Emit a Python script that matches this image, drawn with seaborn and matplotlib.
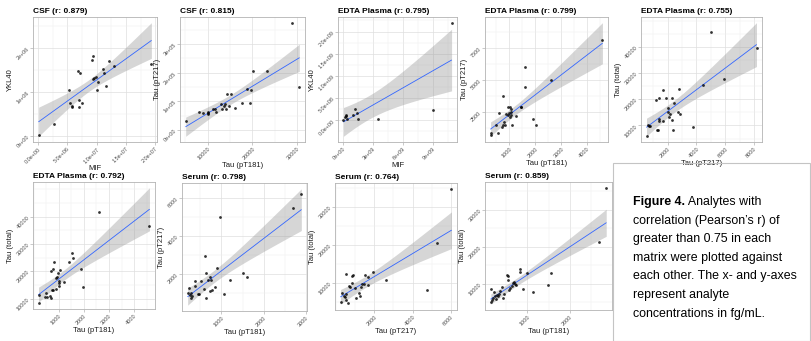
import numpy as np
import pandas as pd
import matplotlib
matplotlib.use("Agg")
import matplotlib.pyplot as plt
import seaborn as sns
from matplotlib.ticker import FixedLocator, MultipleLocator
from matplotlib.patches import Rectangle

# ---------------- data ----------------
titles = ["CSF (r: 0.879)", "CSF (r: 0.815)", "EDTA Plasma (r: 0.795)",
          "EDTA Plasma (r: 0.799)", "EDTA Plasma (r: 0.755)",
          "EDTA Plasma (r: 0.792)", "Serum (r: 0.798)", "Serum (r: 0.764)",
          "Serum (r: 0.859)"]
xlabels = ["MIF", "Tau (pT181)", "MIF", "Tau (pT181)", "Tau (pT217)",
           "Tau (pT181)", "Tau (pT181)", "Tau (pT217)", "Tau (pT181)"]
ylabels = ["YKL40", "Tau (pT217)", "YKL40", "Tau (pT217)", "Tau (total)",
           "Tau (total)", "Tau (pT217)", "Tau (total)", "Tau (total)"]

p1_x = [0.1e6, 2.8e6, 5.2e6, 5.4e6, 5.7e6, 5.8e6, 6.8e6, 7.1e6, 7.0e6, 7.5e6, 6.9e6, 9.2e6,
        9.4e6, 9.3e6, 9.5e6, 9.8e6, 10.2e6, 10.1e6, 11.2e6, 11.1e6, 11.5e6, 12.1e6, 13.0e6, 19.3e6]
p1_y = [0.02e6, 0.28e6, 1.05e6, 0.76e6, 0.66e6, 0.68e6, 1.48e6, 1.44e6, 0.81e6, 0.76e6, 0.66e6, 1.72e6,
        1.82e6, 1.29e6, 1.32e6, 1.35e6, 1.23e6, 1.04e6, 1.42e6, 1.51e6, 1.14e6, 1.70e6, 1.58e6, 1.64e6]

p2_x = [5110, 7970, 8870, 10000, 10000, 10150, 11280, 11730, 11880, 13080, 13230, 13610, 13830,
        14140, 14290, 14740, 15260, 16170, 17590, 18800, 19400, 19700, 20230, 23160, 28800, 30450]
p2_y = [0.32e5, 0.63e5, 0.60e5, 0.59e5, 0.55e5, 0.63e5, 0.74e5, 0.74e5, 0.63e5, 0.89e5, 0.72e5,
        0.85e5, 0.91e5, 0.72e5, 1.25e5, 0.82e5, 1.25e5, 0.78e5, 0.94e5, 1.44e5, 0.94e5, 1.40e5,
        2.06e5, 2.06e5, 3.75e5, 1.51e5]

p3_x = [0.07e9, 0.26e9, 0.29e9, 0.33e9, 0.46e9, 1.04e9, 1.24e9, 1.47e9, 1.57e9, 3.55e9, 9.0e9, 10.9e9]
p3_y = [0.0, 0.07e9, 0.13e9, 0.10e9, 0.03e9, 0.11e9, 0.25e9, 0.16e9, 0.04e9, 0.03e9, 0.23e9, 2.2e9]

p4_x = [290, 290, 500, 560, 625, 725, 750, 750, 810, 850, 875, 940, 975, 1000, 1025, 1040, 1060,
        1060, 1090, 1110, 1260, 1440, 1460, 1600, 1600, 1900, 2025, 2600, 4575]
p4_y = [675, 875, 1500, 825, 2425, 1300, 1500, 3800, 1750, 1500, 2375, 2250, 2925, 2425, 2125, 2925,
        2250, 2750, 2500, 1500, 2175, 2875, 2925, 6000, 4500, 1950, 1500, 5050, 8175]

p5_x = [520, 640, 680, 730, 1250, 1300, 1360, 1360, 1180, 1360, 1640, 1700, 1860, 2050, 2050, 2090,
        2160, 2320, 2340, 2320, 2430, 2730, 2770, 2840, 3750, 4430, 5000, 5950, 8180]
p5_y = [5860, 10230, 9890, 9660, 8160, 8390, 11610, 12530, 19660, 20460, 11610, 23680, 20460, 16780,
        15060, 13100, 14480, 12180, 8390, 20460, 18740, 15060, 23910, 14250, 9310, 25400, 45860,
        27700, 39540]

p6_x = [195, 195, 455, 505, 545, 650, 675, 740, 780, 675, 780, 830, 900, 880, 935, 960, 990, 1025,
        1010, 1040, 1195, 1415, 1545, 1560, 1870, 1975, 2585, 4610]
p6_y = [8330, 11440, 10670, 12000, 10560, 11110, 10110, 13110, 13110, 20000, 20670, 23330, 13670,
        17560, 18000, 19220, 14780, 15780, 16440, 20560, 16220, 23560, 26670, 24780, 20670, 14220,
        41780, 36670]

p7_x = [203, 242, 258, 281, 281, 313, 367, 383, 438, 477, 523, 594, 609, 625, 633, 672, 727, 727,
        766, 781, 859, 906, 961, 1055, 1195, 1508, 1609, 2703, 2890]
p7_y = [1029, 1286, 909, 738, 1029, 858, 1630, 1407, 995, 978, 1664, 1252, 2967, 2058, 755, 1681,
        1115, 1887, 1715, 1200, 1321, 2350, 5009, 978, 1681, 2093, 1887, 5489, 6209]

p8_x = [254, 339, 424, 475, 559, 559, 559, 644, 678, 763, 847, 864, 898, 983, 1034, 1237, 1271,
        1322, 1373, 1492, 1525, 1661, 1695, 1966, 2627, 4746, 5254, 6017]
p8_y = [5085, 7288, 6440, 6186, 7034, 12290, 5508, 4661, 9153, 8898, 10000, 11864, 12119, 8729,
        6017, 7288, 6610, 8898, 9746, 9831, 12119, 11525, 9407, 12966, 10678, 8136, 20424, 34830]

p9_x = [144, 176, 160, 200, 224, 240, 256, 280, 304, 336, 368, 400, 424, 464, 528, 544, 544, 576,
        600, 640, 664, 696, 704, 736, 824, 840, 904, 1000, 1136, 1480, 1560, 2680, 2856]
p9_y = [5088, 5614, 8684, 6228, 7719, 6842, 5965, 7105, 6667, 7368, 7982, 9035, 6053, 7368, 12368,
        12105, 11053, 8246, 8860, 9474, 10351, 10614, 10000, 9737, 13246, 13860, 8684, 12807, 7807,
        9737, 12807, 21140, 35877]

xs = [p1_x, p2_x, p3_x, p4_x, p5_x, p6_x, p7_x, p8_x, p9_x]
ys = [p1_y, p2_y, p3_y, p4_y, p5_y, p6_y, p7_y, p8_y, p9_y]

xtick_vals = [[0, 5e6, 1e7, 1.5e7, 2e7], [10000, 20000, 30000], [0, 3e9, 6e9, 9e9],
              [1000, 2000, 3000, 4000], [2000, 4000, 6000, 8000], [1000, 2000, 3000, 4000],
              [1000, 2000, 3000], [2000, 4000, 6000], [1000, 2000, 3000]]
xtick_labs = [["0.0e+00", "5.0e+06", "1.0e+07", "1.5e+07", "2.0e+07"],
              ["10000", "20000", "30000"], ["0e+00", "3e+09", "6e+09", "9e+09"],
              ["1000", "2000", "3000", "4000"], ["2000", "4000", "6000", "8000"],
              ["1000", "2000", "3000", "4000"], ["1000", "2000", "3000"],
              ["2000", "4000", "6000"], ["1000", "2000", "3000"]]
ytick_vals = [[0, 1e6, 2e6], [0, 1e5, 2e5, 3e5], [0, 5e8, 1e9, 1.5e9, 2e9], [2500, 5000, 7500],
              [10000, 20000, 30000, 40000], [10000, 20000, 30000, 40000], [0, 2000, 4000, 6000],
              [10000, 20000, 30000], [10000, 20000, 30000]]
ytick_labs = [["0e+00", "1e+06", "2e+06"], ["0e+00", "1e+05", "2e+05", "3e+05"],
              ["0.0e+00", "5.0e+08", "1.0e+09", "1.5e+09", "2.0e+09"], ["2500", "5000", "7500"],
              ["10000", "20000", "30000", "40000"], ["10000", "20000", "30000", "40000"],
              ["0", "2000", "4000", "6000"], ["10000", "20000", "30000"],
              ["10000", "20000", "30000"]]

caption_bold = "Figure 4."
caption_lines = [" Analytes with", "correlation (Pearson\u2019s r) of", "greater than 0.75 in each",
                 "matrix were plotted against", "each other. The x- and y-axes",
                 "represent analyte", "concentrations in fg/mL."]

# ---------------- layout (pixel boxes: left, top, right, bottom) ----------------
W, H = 811, 341
boxes = [(33, 17, 157, 142), (180, 17, 305, 142), (338, 17, 457, 142), (485, 17, 608, 142),
         (641, 17, 762, 142), (33, 182, 155, 309), (182, 183, 307, 311), (335, 183, 457, 310),
         (485, 182, 612, 310)]

sns.set_theme(style="white")
plt.rcParams["font.family"] = ["Liberation Sans", "DejaVu Sans"]

fig = plt.figure(figsize=(W / 100, H / 100), dpi=100)
fig.patch.set_facecolor("white")


def t975(df):
    z = 1.959964
    return z + (z ** 3 + z) / (4 * df) + (5 * z ** 5 + 16 * z ** 3 + 3 * z) / (96 * df ** 2)


for i in range(9):
    l, t, r, b = boxes[i]
    ax = fig.add_axes([l / W, (H - b) / H, (r - l) / W, (b - t) / H])
    df = pd.DataFrame({"x": np.array(xs[i], float), "y": np.array(ys[i], float)})

    # linear fit with 95% confidence band (as in geom_smooth(method="lm"))
    x = df["x"].values
    y = df["y"].values
    n = len(x)
    b1, b0 = np.polyfit(x, y, 1)
    resid = y - (b0 + b1 * x)
    s = np.sqrt(np.sum(resid ** 2) / (n - 2))
    xg = np.linspace(x.min(), x.max(), 120)
    se = s * np.sqrt(1 / n + (xg - x.mean()) ** 2 / np.sum((x - x.mean()) ** 2))
    yg = b0 + b1 * xg
    tq = t975(n - 2)
    ax.fill_between(xg, yg - tq * se, yg + tq * se, color="#999999", alpha=0.4,
                    linewidth=0, zorder=2)

    sns.regplot(data=df, x="x", y="y", ax=ax, ci=None, truncate=True,
                scatter_kws=dict(s=4, color="black", linewidths=0, zorder=4),
                line_kws=dict(color="#3366FF", lw=0.6, zorder=3))

    ax.margins(0.05)
    ax.set_facecolor("white")
    for sp in ax.spines.values():
        sp.set_color("#b3b3b3")
        sp.set_linewidth(0.6)

    ax.xaxis.set_major_locator(FixedLocator(xtick_vals[i]))
    ax.set_xticklabels(xtick_labs[i], rotation=45, ha="right", va="top",
                       rotation_mode="anchor")
    ax.yaxis.set_major_locator(FixedLocator(ytick_vals[i]))
    ax.set_yticklabels(ytick_labs[i], rotation=45, ha="right", va="center",
                       rotation_mode="anchor")
    xstep = xtick_vals[i][1] - xtick_vals[i][0]
    ystep = ytick_vals[i][1] - ytick_vals[i][0]
    ax.xaxis.set_minor_locator(MultipleLocator(xstep / 2))
    ax.yaxis.set_minor_locator(MultipleLocator(ystep / 2))
    ax.grid(True, which="major", color="#dedede", linewidth=0.5, zorder=0)
    ax.grid(True, which="minor", color="#eeeeee", linewidth=0.35, zorder=0)
    ax.set_axisbelow(True)
    ax.tick_params(axis="both", which="major", labelsize=4.0, labelcolor="#4d4d4d",
                   color="#b3b3b3", length=2, width=0.5, pad=1.2, bottom=True, left=True)
    ax.tick_params(axis="both", which="minor", length=0)

    ax.set_xlabel(xlabels[i], fontsize=5.5, color="#1a1a1a", labelpad=0.5)
    ax.set_ylabel(ylabels[i], fontsize=5.5, color="#1a1a1a", labelpad=1.5)
    ax.set_title(titles[i], loc="left", fontsize=6, fontweight="bold", color="black", pad=3)

# ---------------- caption box ----------------
fig.patches.append(Rectangle((613 / W, 0), (W - 613) / W - 0.001, (H - 163) / H,
                             transform=fig.transFigure, fill=False, edgecolor="#c4c4c4",
                             linewidth=0.8))
x0 = 633 / W
y_first = 202
dy = 18.6
fs = 8.9
tb = fig.text(x0, (H - y_first) / H, caption_bold, fontsize=fs, fontweight="bold",
              va="center", ha="left", color="black")
fig.canvas.draw()
bb = tb.get_window_extent(renderer=fig.canvas.get_renderer())
fig.text(bb.x1 / W, (H - y_first) / H, caption_lines[0], fontsize=fs, va="center",
         ha="left", color="black")
for k, line in enumerate(caption_lines[1:], start=1):
    fig.text(x0, (H - (y_first + k * dy)) / H, line, fontsize=fs, va="center", ha="left",
             color="black")

fig.savefig("out.png", dpi=100, facecolor="white")
